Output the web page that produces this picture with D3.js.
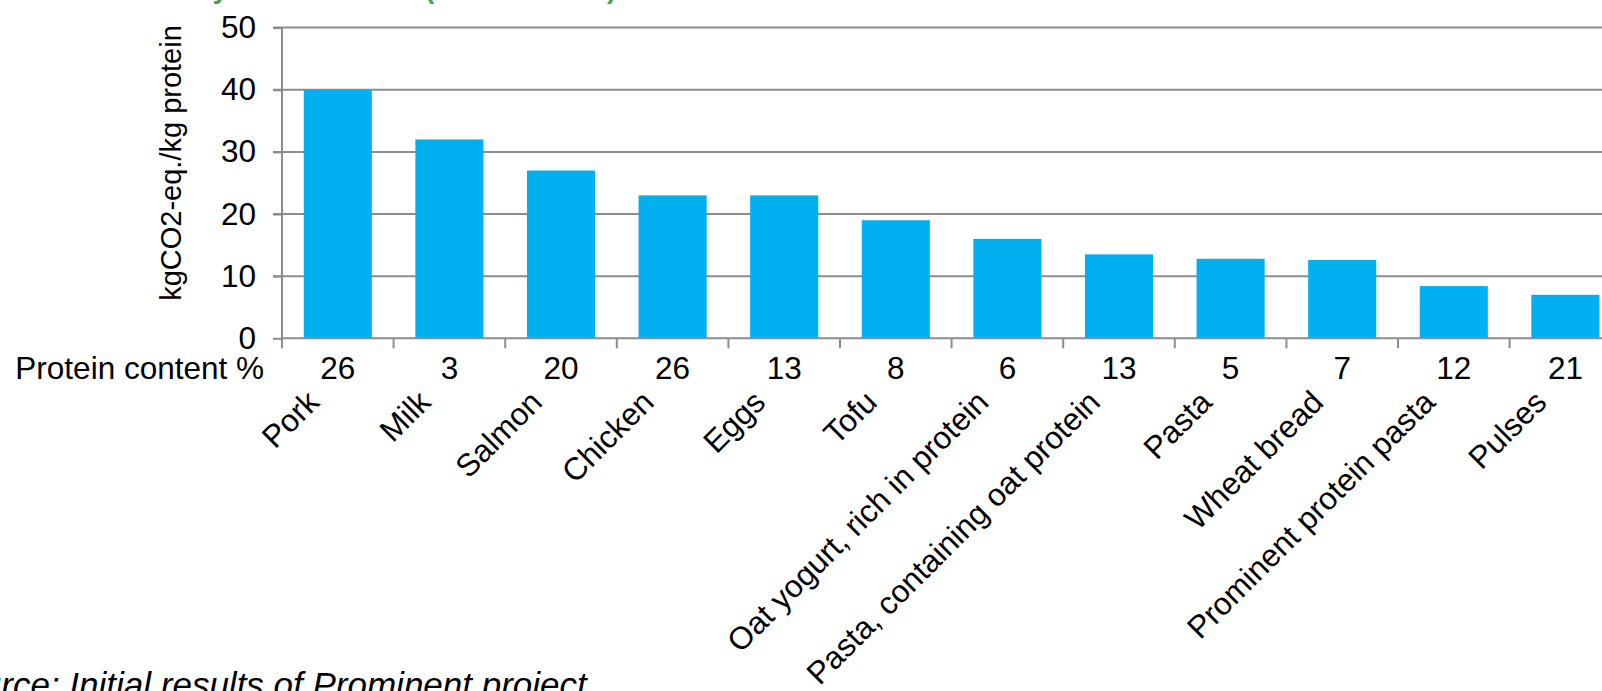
<!DOCTYPE html>
<html>
<head>
<meta charset="utf-8">
<script src="https://cdn.jsdelivr.net/npm/d3@7"></script>
<style>
  html, body { margin: 0; padding: 0; background: #ffffff; overflow: hidden; }
  svg { display: block; }
  text { font-family: "Liberation Sans", Arial, sans-serif; fill: #000; }
</style>
</head>
<body>
<svg id="chart" width="1602" height="691"></svg>
<script>
// ---- data ----
const categories = ["Pork", "Milk", "Salmon", "Chicken", "Eggs", "Tofu",
  "Oat yogurt, rich in protein", "Pasta, containing oat protein", "Pasta",
  "Wheat bread", "Prominent protein pasta", "Pulses"];
const emissions = [40, 32, 27, 23, 23, 19, 16, 13.5, 12.8, 12.6, 8.4, 7.0];
const proteinContent = [26, 3, 20, 26, 13, 8, 6, 13, 5, 7, 12, 21];
const yTicks = [0, 10, 20, 30, 40, 50];
const yTitle = "kgCO2-eq./kg protein";
const rowLabel = "Protein content %";
const sourceText = "Source: Initial results of Prominent project";
const titleStart = "Climate emissions by";
const titleParen = "(initial results)";

// ---- layout ----
const svg = d3.select("#chart");
const x0 = 282, step = 111.6;
const fs = "31.5px";
const x = d3.scaleBand()
  .domain(categories)
  .range([x0, x0 + step * categories.length])
  .paddingInner(0.39)
  .paddingOuter(0.195);
const y = d3.scaleLinear().domain([0, 50]).range([338.3, 27.6]);
const gridColor = "#8c8c8c";

// partially visible title (cut off by top edge, as in the reference)
const title = svg.append("text")
  .attr("y", -2)
  .style("font-size", "28px")
  .style("font-weight", "bold")
  .style("fill", "#4a9d5b");
title.append("tspan").attr("x", 228).attr("text-anchor", "end").text(titleStart);
title.append("tspan").attr("x", 425).attr("text-anchor", "start").text(titleParen);

// gridlines
svg.append("g").selectAll("line")
  .data(yTicks.filter(d => d > 0))
  .join("line")
  .attr("x1", x0 - 9).attr("x2", 1602)
  .attr("y1", d => y(d)).attr("y2", d => y(d))
  .attr("stroke", gridColor).attr("stroke-width", 2);

// bars
svg.append("g").selectAll("rect")
  .data(categories)
  .join("rect")
  .attr("x", d => x(d))
  .attr("width", x.bandwidth())
  .attr("y", (d, i) => y(emissions[i]))
  .attr("height", (d, i) => y(0) - y(emissions[i]))
  .attr("fill", "#00b0f0");

// y axis
const yAxis = d3.axisLeft(y).tickValues(yTicks).tickSize(9).tickPadding(17);
const gy = svg.append("g").attr("transform", `translate(${x0},0)`).call(yAxis);
gy.select(".domain").remove();
gy.selectAll(".tick line").attr("stroke", gridColor).attr("stroke-width", 2);
gy.selectAll(".tick text").style("font-size", fs)
  .style("font-family", '"Liberation Sans", Arial, sans-serif').attr("fill", "#000");
svg.append("line")
  .attr("x1", x0).attr("x2", x0)
  .attr("y1", y(50)).attr("y2", y(0) + 10)
  .attr("stroke", gridColor).attr("stroke-width", 2);

// x axis baseline
svg.append("line")
  .attr("x1", x0).attr("x2", 1602)
  .attr("y1", y(0)).attr("y2", y(0))
  .attr("stroke", gridColor).attr("stroke-width", 2);

// category boundary ticks
const bounds = d3.range(categories.length + 1).map(k => x0 + k * x.step());
svg.append("g").selectAll("line")
  .data(bounds)
  .join("line")
  .attr("x1", d => d).attr("x2", d => d)
  .attr("y1", y(0)).attr("y2", y(0) + 10)
  .attr("stroke", gridColor).attr("stroke-width", 2);

// protein content row
svg.append("text")
  .attr("x", 264).attr("y", 379)
  .attr("text-anchor", "end")
  .style("font-size", fs)
  .text(rowLabel);
svg.append("g").selectAll("text")
  .data(categories)
  .join("text")
  .attr("x", d => x(d) + x.bandwidth() / 2)
  .attr("y", 379)
  .attr("text-anchor", "middle")
  .style("font-size", fs)
  .text((d, i) => proteinContent[i]);

// rotated category labels
svg.append("g").selectAll("text")
  .data(categories)
  .join("text")
  .attr("transform", d => `translate(${x(d) + x.bandwidth() / 2 - 17},404) rotate(-45)`)
  .attr("text-anchor", "end")
  .style("font-size", fs)
  .text(d => d);

// y title
svg.append("text")
  .attr("transform", "translate(180.5,163) rotate(-90)")
  .attr("text-anchor", "middle")
  .style("font-size", "29px")
  .text(yTitle);

// source
svg.append("text")
  .attr("x", -61).attr("y", 697)
  .style("font-size", "35px")
  .style("font-style", "italic")
  .text(sourceText);
</script>
</body>
</html>
